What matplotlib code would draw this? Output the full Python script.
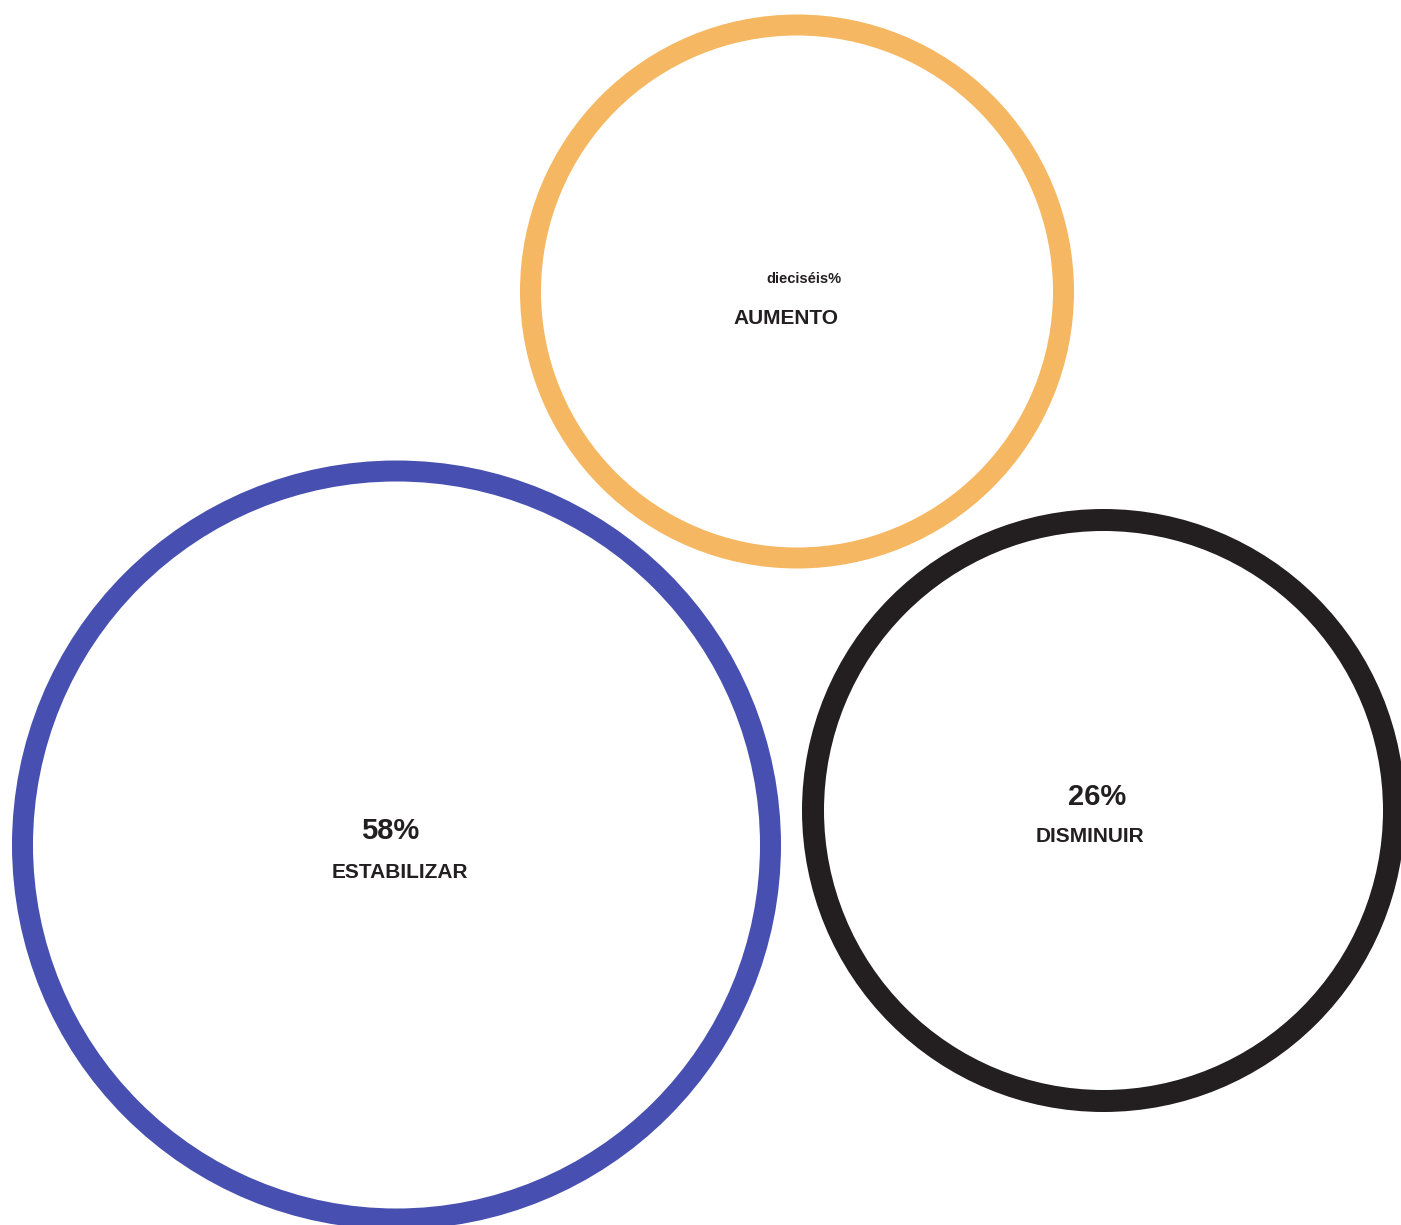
import matplotlib.pyplot as plt
from matplotlib.patches import Circle

# Share of answers per option
labels = ["AUMENTO", "ESTABILIZAR", "DISMINUIR"]
values = ["dieciséis%", "58%", "26%"]

# Bubble layout in pixel coordinates (centre x, centre y, ring radius)
cx = [797, 396.5, 1103.5]
cy = [291.5, 845, 810.5]
radius = [266.5, 374, 290.5]
ring_px = [21, 21, 22]
colors = ["#F5B762", "#4750B0", "#231F20"]

# text placement and sizes
value_xy = [(804, 279), (390, 831), (1097, 797)]
label_xy = [(786, 318), (400, 872), (1090, 837)]
value_size = [10.5, 21, 21]
label_size = [15, 15, 15]

W, H = 1401, 1225
fig = plt.figure(figsize=(W / 100, H / 100), dpi=100)
ax = fig.add_axes([0, 0, 1, 1])
ax.set_xlim(0, W)
ax.set_ylim(H, 0)
ax.set_aspect("equal")
ax.axis("off")

for i in range(len(labels)):
    ring = Circle((cx[i], cy[i]), radius[i], fill=False,
                  edgecolor=colors[i], linewidth=ring_px[i] * 0.72)
    ax.add_patch(ring)
    ax.text(*value_xy[i], values[i], ha="center", va="center",
            fontsize=value_size[i], fontweight="bold", color="#231F20",
            family="Liberation Sans")
    ax.text(*label_xy[i], labels[i], ha="center", va="center",
            fontsize=label_size[i], fontweight="bold", color="#231F20",
            family="Liberation Sans")

plt.savefig("out.png", dpi=100)
